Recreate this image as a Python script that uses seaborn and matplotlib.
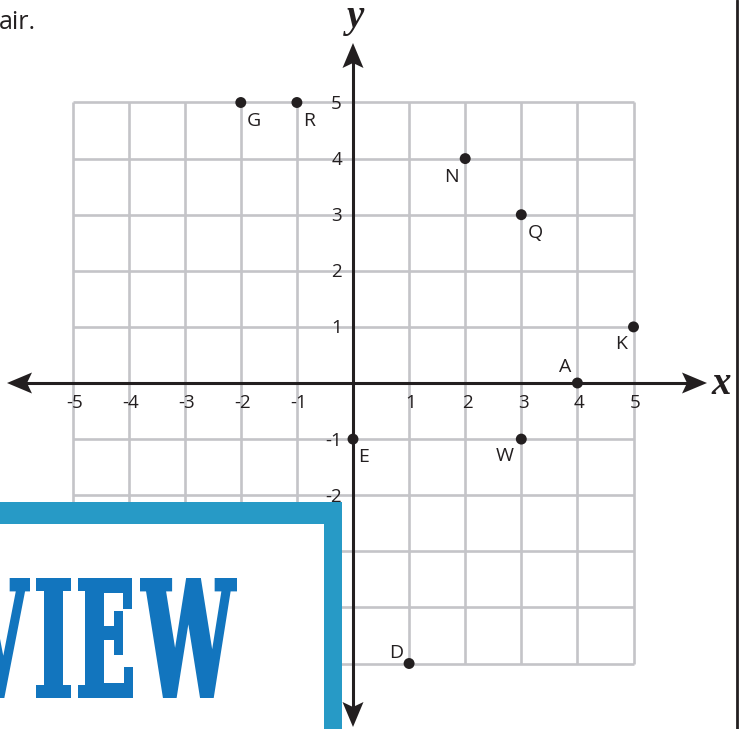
import numpy as np
import pandas as pd
import matplotlib
matplotlib.use("Agg")
import matplotlib.pyplot as plt
from matplotlib.patches import Rectangle, Polygon, PathPatch
from matplotlib.textpath import TextPath
from matplotlib.font_manager import FontProperties
from matplotlib.transforms import Affine2D
import seaborn as sns

# Points on the coordinate plane
point_names = ["G", "R", "N", "Q", "K", "A", "E", "W", "D"]
point_x = [-2, -1, 2, 3, 5, 4, 0, 3, 1]
point_y = [5, 5, 4, 3, 1, 0, -1, -1, -5]

# Axis tick values / labels
tick_values = [-5, -4, -3, -2, -1, 1, 2, 3, 4, 5]
tick_labels = ["-5", "-4", "-3", "-2", "-1", "1", "2", "3", "4", "5"]

# label nudges for the point names (pixels, y up)
label_nudge = {"G": (13, -18), "R": (12, -18), "N": (-14, -18), "Q": (14, -18),
               "K": (-12, -17), "A": (-12, 16), "E": (11, -18), "W": (-17, -17),
               "D": (-13, 10)}

sns.set_style("white")
plt.rcParams["font.family"] = ["Open Sans", "DejaVu Sans"]

W, H = 745, 729
UNIT = 56.1            # pixels per grid unit
OX, OY = 353, 383      # origin in image pixels

def px_x(p):
    return (p - OX) / UNIT

def px_y(p):
    return (OY - p) / UNIT

ink = "#231f20"
grid_col = "#c4c4c8"

fig = plt.figure(figsize=(W / 100, H / 100), dpi=100)
ax = fig.add_axes([0, 0, 1, 1])

# grid
lines = np.arange(-5, 6)
ax.vlines(lines, -5, 5, color=grid_col, lw=1.9, zorder=1)
ax.hlines(lines, -5, 5, color=grid_col, lw=1.9, zorder=1)

# axes with arrowheads
x_lo, x_hi = px_x(7), px_x(707)
y_lo, y_hi = px_y(727), px_y(43)
head_len, head_w, notch = 25 / UNIT, 10.5 / UNIT, 5 / UNIT
ax.plot([x_lo + head_len / 2, x_hi - head_len / 2], [0, 0], color=ink, lw=2.2, zorder=6,
        solid_capstyle="butt")
ax.plot([0, 0], [y_lo + head_len / 2, y_hi - head_len / 2], color=ink, lw=2.2, zorder=6,
        solid_capstyle="butt")

def arrow_head(tip, d):
    tx, ty = tip
    dx, dy = d
    nx, ny = -dy, dx
    bx, by = tx - dx * head_len, ty - dy * head_len
    pts = [(tx, ty),
           (bx + nx * head_w, by + ny * head_w),
           (bx + dx * notch, by + dy * notch),
           (bx - nx * head_w, by - ny * head_w)]
    ax.add_patch(Polygon(pts, closed=True, color=ink, lw=0, zorder=6))

arrow_head((x_hi, 0), (1, 0))
arrow_head((x_lo, 0), (-1, 0))
arrow_head((0, y_hi), (0, 1))
arrow_head((0, y_lo), (0, -1))

# tick labels
for v, lab in zip(tick_values, tick_labels):
    ax.text(v + 2 / UNIT, -20 / UNIT, lab, ha="center", va="center",
            fontsize=13.5, color=ink, zorder=2)
    ax.text(-11 / UNIT, v - 1.5 / UNIT, lab, ha="right", va="center",
            fontsize=13.5, color=ink, zorder=2)

# axis names
ax.text(px_x(721), px_y(385), "x", ha="center", va="center", fontsize=28,
        family="Liberation Serif", style="italic", weight="bold", color=ink, zorder=6)
ax.text(px_x(356), px_y(17), "y", ha="center", va="center", fontsize=28,
        family="Liberation Serif", style="italic", weight="bold", color=ink, zorder=6)

# points
df = pd.DataFrame({"name": point_names, "x": point_x, "y": point_y})
sns.scatterplot(data=df, x="x", y="y", ax=ax, color=ink, s=62, edgecolor="none",
                zorder=7, legend=False)
ax.set_xlim(px_x(0), px_x(W))
ax.set_ylim(px_y(H), px_y(0))
ax.set_axis_off()
for _, r in df.iterrows():
    dx, dy = label_nudge[r["name"]]
    ax.annotate(r["name"], (r["x"], r["y"]), xytext=(dx, dy), textcoords="offset pixels",
                ha="center", va="center", fontsize=14, color=ink, zorder=7)

# right border line
ax.axvline(px_x(737), color=ink, lw=2, zorder=6)

# text fragment at top left
ax.text(px_x(-1), px_y(29), "air.", ha="left", va="baseline", fontsize=18,
        color=ink, zorder=6)

# preview box in the lower left
blue_frame = "#279ac6"
blue_text = "#1275be"
ax.add_patch(Rectangle((px_x(-20), px_y(H + 20)), (342 + 20) / UNIT, (H + 20 - 502) / UNIT,
                       facecolor=blue_frame, edgecolor="none", zorder=5))
ax.add_patch(Rectangle((px_x(-20), px_y(H + 20)), (324 + 20) / UNIT, (H + 20 - 524) / UNIT,
                       facecolor="white", edgecolor="none", zorder=5))

# big condensed "VIEW" lettering, each glyph fitted to its own box (image pixels)
fp = FontProperties(family="DejaVu Serif", weight="bold")
glyph_boxes = [("V", -34, 30), ("I", 36, 71), ("E", 78, 133), ("W", 140, 237)]
top, bottom = 578, 698
stroke = 4
for ch, x0, x1 in glyph_boxes:
    gp = TextPath((0, 0), ch, size=100, prop=fp)
    gb = gp.get_extents()
    sx = (x1 - x0 - stroke) / gb.width
    sy = (bottom - top - stroke) / gb.height
    tx = x0 + stroke / 2 - gb.x0 * sx
    ty = (H - bottom) + stroke / 2 - gb.y0 * sy
    ax.add_patch(PathPatch(gp, facecolor=blue_text, edgecolor=blue_text, lw=stroke * 0.72,
                           joinstyle="miter", zorder=5.5,
                           transform=Affine2D().scale(sx, sy).translate(tx, ty)))

fig.savefig("out.png", dpi=100)
